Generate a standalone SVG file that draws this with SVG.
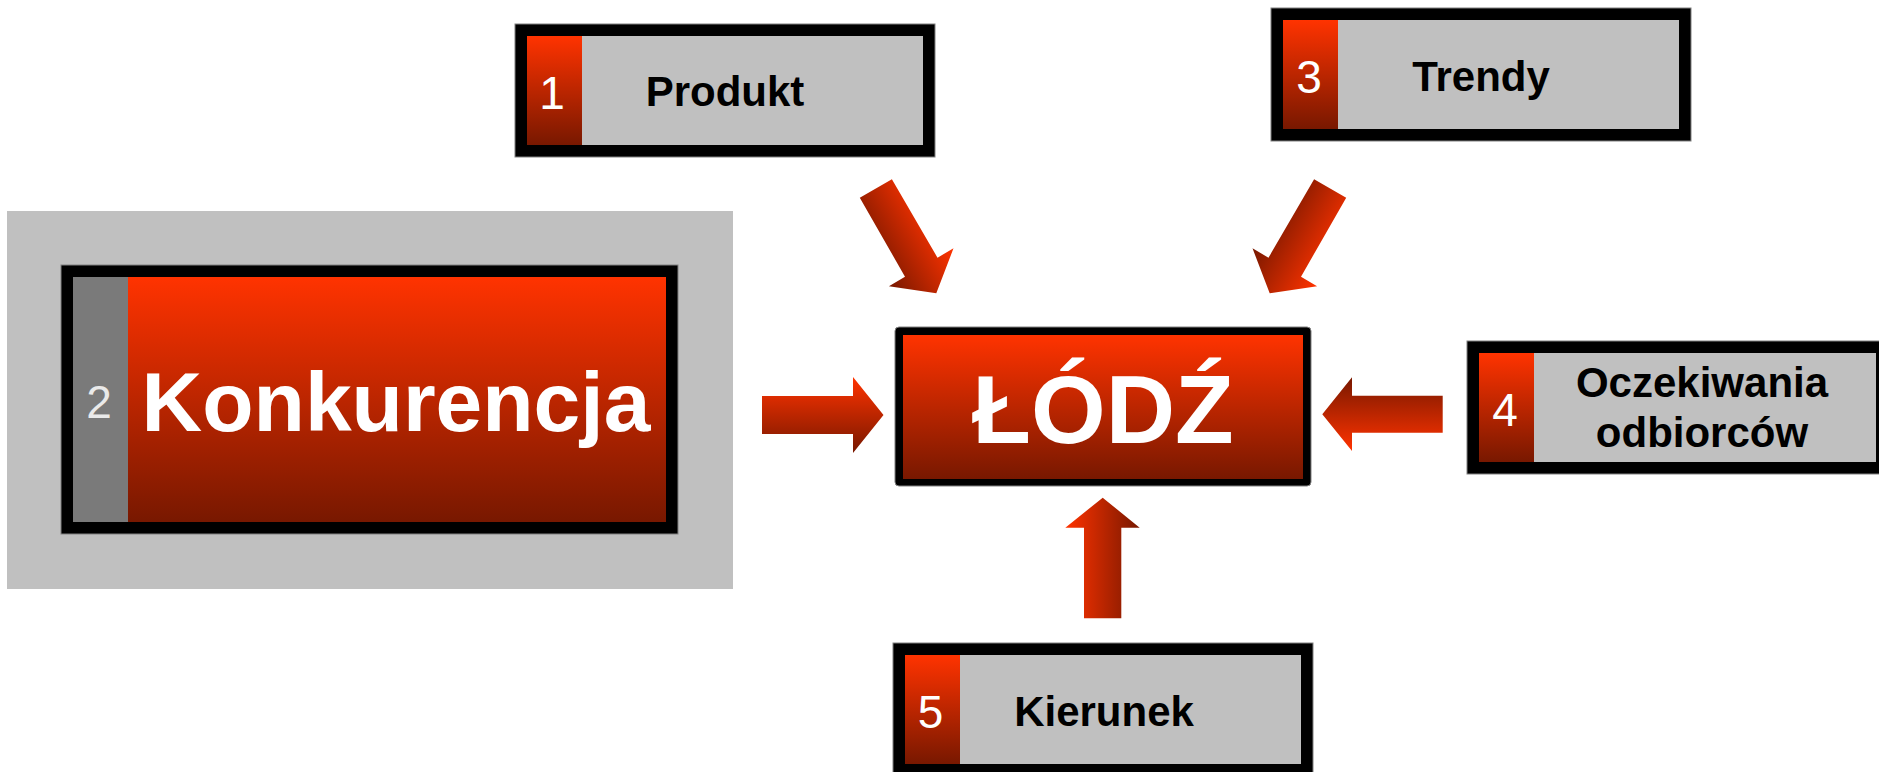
<svg xmlns="http://www.w3.org/2000/svg" width="1879" height="772" viewBox="0 0 1879 772">
  <defs>
    <!-- vertical red fade used by number tabs and main boxes -->
    <linearGradient id="redV" x1="0" y1="0" x2="0" y2="1">
      <stop offset="0" stop-color="#ff3300"/>
      <stop offset="1" stop-color="#781800"/>
    </linearGradient>
    <linearGradient id="redVrev" x1="0" y1="0" x2="0" y2="1">
      <stop offset="0" stop-color="#781800"/>
      <stop offset="1" stop-color="#ff3300"/>
    </linearGradient>
    <linearGradient id="redH" x1="0" y1="0" x2="1" y2="0">
      <stop offset="0" stop-color="#ff3300"/>
      <stop offset="1" stop-color="#781800"/>
    </linearGradient>
    <linearGradient id="redDiagL" gradientUnits="userSpaceOnUse" x1="873.5" y1="259.75" x2="938.5" y2="222.25">
      <stop offset="0" stop-color="#781800"/>
      <stop offset="1" stop-color="#ff3300"/>
    </linearGradient>
    <linearGradient id="redDiagR" gradientUnits="userSpaceOnUse" x1="1267.5" y1="222.25" x2="1332.5" y2="259.75">
      <stop offset="0" stop-color="#781800"/>
      <stop offset="1" stop-color="#ff3300"/>
    </linearGradient>
    <style>
      .frame { fill: #000; stroke: #808080; stroke-width: 1; }
      .panel { fill: #c0c0c0; }
      .tab { fill: url(#redV); }
      .num { font-family: "Liberation Sans", Arial, sans-serif; font-size: 46px; fill: #fff; text-anchor: middle; }
      .label { font-family: "Liberation Sans", Arial, sans-serif; font-size: 42px; font-weight: bold; fill: #000; text-anchor: middle; }
      .big { font-family: "Liberation Sans", Arial, sans-serif; font-weight: bold; fill: #fff; text-anchor: middle; }
    </style>
  </defs>

  <rect width="1879" height="772" fill="#fff"/>

  <!-- 1 Produkt -->
  <g id="produkt">
    <rect class="frame" x="515" y="24" width="420" height="133"/>
    <rect class="panel" x="527" y="36" width="396" height="109"/>
    <rect class="tab" x="527" y="36" width="55" height="109"/>
    <text class="num" x="552" y="109">1</text>
    <text class="label" x="725" y="106">Produkt</text>
  </g>

  <!-- 3 Trendy -->
  <g id="trendy">
    <rect class="frame" x="1271" y="8" width="420" height="133"/>
    <rect class="panel" x="1283" y="20" width="396" height="109"/>
    <rect class="tab" x="1283" y="20" width="55" height="109"/>
    <text class="num" x="1309" y="93">3</text>
    <text class="label" x="1481" y="91">Trendy</text>
  </g>

  <!-- 2 Konkurencja -->
  <g id="konkurencja">
    <rect class="panel" x="7" y="211" width="726" height="378"/>
    <rect class="frame" x="61" y="265" width="617" height="269"/>
    <rect class="tab" x="73" y="277" width="593" height="245"/>
    <rect x="73" y="277" width="55" height="245" fill="#7a7a7a"/>
    <text class="num" x="99" y="418" fill="#eaeaea" style="fill:#eaeaea">2</text>
    <text class="big" x="396" y="431" font-size="84">Konkurencja</text>
  </g>

  <!-- centre: ŁÓDŹ -->
  <g id="lodz">
    <rect x="895" y="327" width="416" height="159" rx="4" fill="#000" stroke="#808080" stroke-width="1"/>
    <rect class="tab" x="903" y="335" width="400" height="144"/>
    <text class="big" x="1103" y="443" font-size="96">ŁÓDŹ</text>
  </g>

  <!-- 4 Oczekiwania odbiorców -->
  <g id="oczekiwania">
    <rect class="frame" x="1467" y="341" width="430" height="133"/>
    <rect class="panel" x="1479" y="353" width="397" height="109"/>
    <rect class="tab" x="1479" y="353" width="55" height="109"/>
    <text class="num" x="1505" y="426">4</text>
    <text class="label" x="1702" y="397">Oczekiwania</text>
    <text class="label" x="1702" y="447">odbiorców</text>
  </g>

  <!-- 5 Kierunek -->
  <g id="kierunek">
    <rect class="frame" x="893" y="643" width="420" height="141"/>
    <rect class="panel" x="905" y="655" width="396" height="109"/>
    <rect class="tab" x="905" y="655" width="55" height="109"/>
    <text class="num" x="930.5" y="728">5</text>
    <text class="label" x="1104" y="726">Kierunek</text>
  </g>

  <!-- block arrows pointing into the centre box -->
  <g id="connectors">
    <path d="M859.8,197.7 L891.9,179.3 L937.5,257.7 L953.5,248.3 L936.3,293.3 L888.9,286.3 L905,276.7 Z" fill="url(#redDiagL)"/>
    <path d="M1346.2,197.7 L1314.1,179.3 L1268.5,257.7 L1252.5,248.3 L1269.7,293.3 L1317.1,286.3 L1301,276.7 Z" fill="url(#redDiagR)"/>
    <path d="M762,396 H853 V377 L883.5,415 L853,453 V434 H762 Z" fill="url(#redV)"/>
    <path d="M1442.7,395.7 H1352 V377.3 L1322.3,414.3 L1352,451 V432.7 H1442.7 Z" fill="url(#redVrev)"/>
    <path d="M1084,618.3 V527.7 H1065.3 L1102.7,497.7 L1139.7,527.7 H1121.3 V618.3 Z" fill="url(#redH)"/>
  </g>
</svg>
